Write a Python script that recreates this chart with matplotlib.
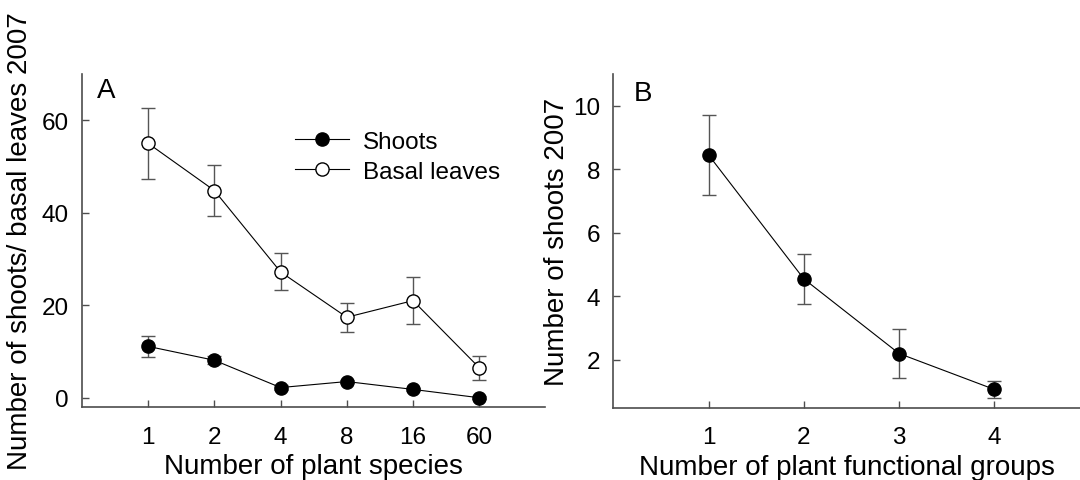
import numpy as np
import matplotlib
matplotlib.use('Agg')
import matplotlib.pyplot as plt

plt.rcParams['font.family'] = ['Liberation Sans', 'DejaVu Sans']

# Panel A data
species_labels = ['1', '2', '4', '8', '16', '60']
shoots = [11.1, 8.1, 2.2, 3.5, 1.8, 0.0]
shoots_err = [2.2, 0.9, 0.5, 0.4, 0.4, 0.3]
basal = [55.0, 44.8, 27.2, 17.4, 21.0, 6.5]
basal_err = [7.7, 5.6, 4.0, 3.1, 5.1, 2.6]

# Panel B data
group_labels = ['1', '2', '3', '4']
group_shoots = [8.45, 4.55, 2.2, 1.07]
group_err = [1.27, 0.79, 0.78, 0.27]

spine_col = '#4d4d4d'
err_col = '#555555'

fig = plt.figure(figsize=(10.8, 4.81), dpi=100)
axA = fig.add_axes([0.0759, 0.1518, 0.4291, 0.6923])
axB = fig.add_axes([0.5679, 0.1507, 0.4321, 0.6934])


def style(ax):
    for s in ['top', 'right']:
        ax.spines[s].set_visible(False)
    for s in ['left', 'bottom']:
        ax.spines[s].set_color(spine_col)
        ax.spines[s].set_linewidth(1.2)
    ax.tick_params(direction='in', length=5, width=1, color=spine_col,
                   labelsize=17.5)
    ax.tick_params(axis='y', pad=9.5)
    ax.tick_params(axis='x', pad=13.5)


# ---- Panel A ----
xa = np.arange(1, len(species_labels) + 1)
axA.errorbar(xa, basal, yerr=basal_err, fmt='none', ecolor=err_col,
             elinewidth=1, capsize=5, capthick=1, zorder=1)
axA.errorbar(xa, shoots, yerr=shoots_err, fmt='none', ecolor=err_col,
             elinewidth=1, capsize=5, capthick=1, zorder=1)
axA.plot(xa, shoots, '-o', color='black', lw=0.8, ms=9.5, mfc='black',
         mec='black', label='Shoots', zorder=3)
axA.plot(xa, basal, '-o', color='black', lw=0.8, ms=9.5, mfc='white',
         mec='black', mew=1, label='Basal leaves', zorder=3)
axA.set_xlim(0, 7)
axA.set_ylim(-2, 70)
axA.set_xticks(xa)
axA.set_xticklabels(species_labels)
axA.set_yticks([0, 20, 40, 60])
style(axA)
axA.set_xlabel('Number of plant species', fontsize=20, labelpad=4)
axA.set_ylabel('Number of shoots/ basal leaves 2007', fontsize=20, labelpad=6)
axA.text(0.032, 0.931, 'A', transform=axA.transAxes, fontsize=20,
         ha='left', va='baseline')
axA.legend(loc='upper left', bbox_to_anchor=(0.46, 0.829), frameon=False,
           fontsize=17.5, handlelength=2.2, handletextpad=0.6,
           borderpad=0, borderaxespad=0, labelspacing=0.32)

# ---- Panel B ----
xb = np.arange(1, len(group_labels) + 1)
axB.errorbar(xb, group_shoots, yerr=group_err, fmt='none', ecolor=err_col,
             elinewidth=1, capsize=5, capthick=1, zorder=1)
axB.plot(xb, group_shoots, '-o', color='black', lw=0.8, ms=9.5, mfc='black',
         mec='black', zorder=3)
axB.set_xlim(0, 4.9)
axB.set_ylim(0.5, 11)
axB.set_xticks(xb)
axB.set_xticklabels(group_labels)
axB.set_yticks([2, 4, 6, 8, 10])
style(axB)
axB.set_xlabel('Number of plant functional groups', fontsize=20, labelpad=4)
axB.set_ylabel('Number of shoots 2007', fontsize=20, labelpad=2)
axB.text(0.044, 0.922, 'B', transform=axB.transAxes, fontsize=20,
         ha='left', va='baseline')

fig.savefig('out.png', dpi=100)
